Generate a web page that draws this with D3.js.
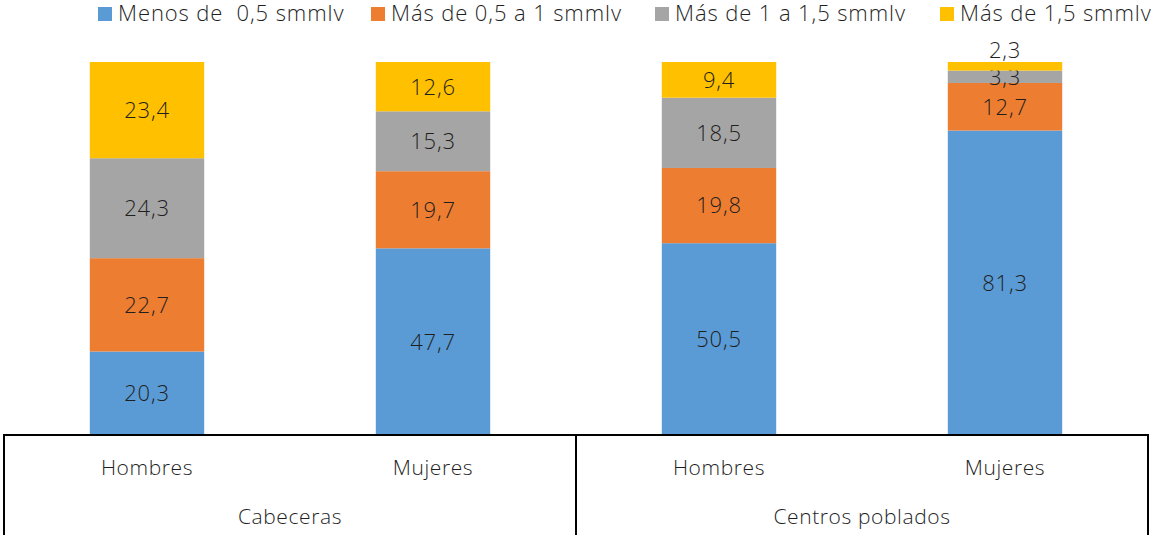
<!DOCTYPE html>
<html>
<head>
<meta charset="utf-8">
<script src="https://cdn.jsdelivr.net/npm/d3@7"></script>
<style>
  body { margin: 0; background: #fff; overflow: hidden; }
  svg text { font-family: "Open Sans", sans-serif; font-weight: 300; fill: #1f1f1f; }
</style>
</head>
<body>
<div id="chart"></div>
<script>
// Data
var groups = ['Cabeceras', 'Cabeceras', 'Centros poblados', 'Centros poblados'];
var categories = ['Hombres', 'Mujeres', 'Hombres', 'Mujeres'];
var seriesNames = ['Menos de  0,5 smmlv', 'Más de 0,5 a 1 smmlv', 'Más de 1 a 1,5 smmlv', 'Más de 1,5 smmlv'];
var menos05 = [20.3, 47.7, 50.5, 81.3];
var de05a1 = [22.7, 19.7, 19.8, 12.7];
var de1a15 = [24.3, 15.3, 18.5, 3.3];
var mas15 = [23.4, 12.6, 9.4, 2.3];
var colors = ['#5B9BD5', '#ED7D31', '#A5A5A5', '#FFC000'];

var width = 1151, height = 535;
var plotTop = 62, base = 435, left = 4, right = 1148;

var rows = categories.map(function (c, i) {
  return {i: i, cat: c, group: groups[i], s0: menos05[i], s1: de05a1[i], s2: de1a15[i], s3: mas15[i]};
});
var keys = ['s0', 's1', 's2', 's3'];

// 100% stacked
var stack = d3.stack().keys(keys).offset(d3.stackOffsetExpand);
var layers = stack(rows);

var x = d3.scaleBand()
    .domain(rows.map(function (d) { return d.i; }))
    .range([left, right])
    .paddingInner(0.6)
    .paddingOuter(0.3);
var y = d3.scaleLinear().domain([0, 1]).range([base, plotTop]);

var svg = d3.select('#chart').append('svg')
    .attr('width', width)
    .attr('height', height);

// Bars
var layer = svg.selectAll('.layer')
    .data(layers)
    .enter().append('g')
    .attr('class', 'layer')
    .attr('fill', function (d, i) { return colors[i]; });

layer.selectAll('rect')
    .data(function (d) { return d; })
    .enter().append('rect')
    .attr('x', function (d) { return x(d.data.i); })
    .attr('width', x.bandwidth())
    .attr('y', function (d) { return y(d[1]); })
    .attr('height', function (d) { return y(d[0]) - y(d[1]); });

// Value labels
layer.each(function (L, li) {
  d3.select(this).selectAll('text')
    .data(L)
    .enter().append('text')
    .attr('x', function (d) { return x(d.data.i) + x.bandwidth() / 2; })
    .attr('y', function (d) {
      var h = y(d[0]) - y(d[1]);
      if (h < 10 && li === keys.length - 1) return y(d[1]) - 12;
      return (y(d[0]) + y(d[1])) / 2;
    })
    .attr('dy', '0.36em')
    .attr('text-anchor', 'middle')
    .style('font-size', '22px')
    .style('letter-spacing', '0.8px')
    .text(function (d) { return String(d.data[L.key]).replace('.', ','); });
});

// Axis line and group separators
svg.append('line')
    .attr('x1', left - 1).attr('x2', right + 1)
    .attr('y1', base).attr('y2', base)
    .attr('stroke', '#000').attr('stroke-width', 2);

var groupNames = ['Cabeceras', 'Centros poblados'];
var seps = [left, (left + right) / 2, right];
svg.selectAll('.sep')
    .data(seps)
    .enter().append('line')
    .attr('class', 'sep')
    .attr('x1', function (d) { return d; }).attr('x2', function (d) { return d; })
    .attr('y1', base).attr('y2', height)
    .attr('stroke', '#000').attr('stroke-width', 2);

// Category labels
svg.selectAll('.cat')
    .data(rows)
    .enter().append('text')
    .attr('class', 'cat')
    .attr('x', function (d) { return x(d.i) + x.bandwidth() / 2; })
    .attr('y', 475)
    .attr('text-anchor', 'middle')
    .style('font-size', '21px')
    .style('letter-spacing', '0.6px')
    .text(function (d) { return d.cat; });

svg.selectAll('.grp')
    .data(groupNames)
    .enter().append('text')
    .attr('class', 'grp')
    .attr('x', function (d, i) { return (seps[i] + seps[i + 1]) / 2; })
    .attr('y', 524)
    .attr('text-anchor', 'middle')
    .style('font-size', '21px')
    .style('letter-spacing', '0.6px')
    .text(function (d) { return d; });

// Legend
var legendX = [98, 371, 655, 940];
var legend = svg.selectAll('.legend')
    .data(seriesNames)
    .enter().append('g')
    .attr('class', 'legend')
    .attr('transform', function (d, i) { return 'translate(' + legendX[i] + ',0)'; });

legend.append('rect')
    .attr('x', 0).attr('y', 7)
    .attr('width', 14).attr('height', 14)
    .attr('fill', function (d, i) { return colors[i]; });

legend.append('text')
    .attr('x', 20)
    .attr('y', 21)
    .style('font-size', '22px')
    .style('letter-spacing', '0.9px')
    .style('white-space', 'pre')
    .text(function (d) { return d; });
</script>
</body>
</html>
